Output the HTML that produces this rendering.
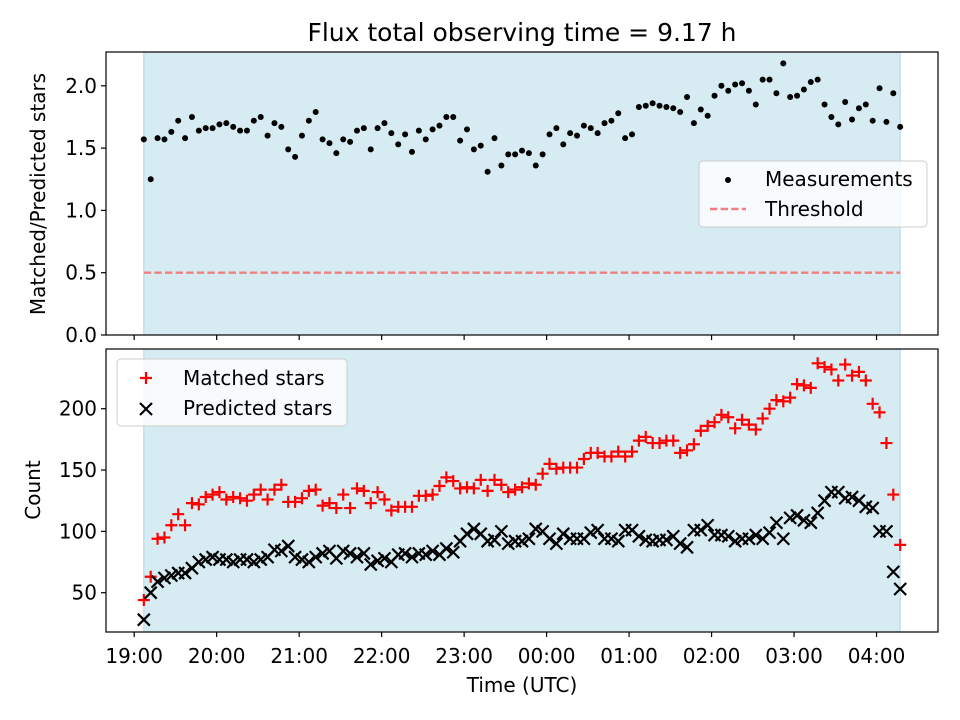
<!DOCTYPE html>
<html><head><meta charset="utf-8"><style>
body{margin:0;background:#fff}
svg{display:block;font-family:"DejaVu Sans","Liberation Sans",sans-serif}
</style></head><body>
<svg id="chart" width="960" height="720" viewBox="0 0 960 720" xmlns="http://www.w3.org/2000/svg">
<text x="522" y="41" font-size="25" text-anchor="middle">Flux total observing time = 9.17 h</text>
<g id="top"></g>
<g id="bot"></g>
<text x="522" y="692" font-size="20" text-anchor="middle">Time (UTC)</text>
<text transform="translate(45,194) rotate(-90)" font-size="20" text-anchor="middle">Matched/Predicted stars</text>
<text transform="translate(40,490) rotate(-90)" font-size="20" text-anchor="middle">Count</text>
</svg>
<script>
const startHour = 19 + 7/60;
const durationHours = 9.17;
const ratio = [1.57,1.25,1.58,1.57,1.63,1.72,1.58,1.75,1.64,1.66,1.66,1.69,1.70,1.67,1.64,1.64,1.72,1.75,1.60,1.70,1.67,1.49,1.43,1.60,1.72,1.79,1.57,1.54,1.46,1.57,1.55,1.64,1.66,1.49,1.66,1.70,1.62,1.53,1.61,1.47,1.64,1.57,1.65,1.68,1.75,1.75,1.56,1.65,1.49,1.52,1.31,1.58,1.36,1.45,1.45,
1.48,1.46,1.36,1.45,1.61,1.66,1.53,1.62,1.60,1.68,1.66,1.62,1.70,1.72,1.78,1.58,1.61,1.83,1.84,1.86,1.84,1.83,1.82,1.79,1.91,1.70,1.81,1.76,1.92,2.00,1.96,2.01,2.02,1.96,1.85,2.05,2.05,1.94,2.18,1.91,1.92,1.97,2.03,2.05,1.85,1.75,1.69,1.87,1.73,1.82,1.85,1.72,1.98,1.71,1.94,1.67];
const matched = [44,63,94,95,105,114,105,123,122,128,130,132,126,128,127,125,130,134,126,134,138,124,124,127,133,134,121,123,119,130,119,135,133,123,132,126,117,120,120,120,129,129,130,137,144,141,135,136,135,142,133,142,
138,132,134,136,139,138,147,155,151,152,152,152,159,164,164,161,161,165,161,165,174,177,172,172,174,174,164,166,171,182,186,189,195,193,184,191,187,183,192,200,207,206,209,220,219,217,237,234,232,223,236,227,230,223,204,197,172,130,89];
const predicted = [28,50,59,62,64,66,66,70,75,77,79,77,77,75,77,77,75,77,79,85,84,88,79,77,75,79,82,84,78,84,82,79,82,73,76,78,75,81,82,79,82,81,84,81,86,83,92,98,102,98,92,93,
100,90,92,92,94,102,100,94,90,98,94,94,94,99,101,94,94,92,101,101,96,93,92,93,93,96,90,87,101,101,105,97,97,96,92,94,94,97,94,99,107,94,111,113,109,107,115,125,132,132,127,128,125,120,119,100,100,67,53];
const xTickLabels = ["19:00","20:00","21:00","22:00","23:00","00:00","01:00","02:00","03:00","04:00"];
const topTicks = [0.0,0.5,1.0,1.5,2.0];
const botTicks = [50,100,150,200];
const threshold = 0.5;

const NS="http://www.w3.org/2000/svg";
function mk(parent,tag,attrs){const e=document.createElementNS(NS,tag);for(const k in attrs)e.setAttribute(k,attrs[k]);parent.appendChild(e);return e;}
const X0=106,X1=938;
const tMin=startHour-0.05*durationHours, tMax=startHour+1.05*durationHours;
const xs=t=>X0+(t-tMin)/(tMax-tMin)*(X1-X0);
const timeAt=i=>startHour+i*durationHours/(ratio.length-1);
const yTop=v=>335-v*124.6;
const yBot=v=>592.7-(v-50)*1.2267;

function frame(g,y0,y1,name){
  const sh=mk(g,'rect',{x:xs(startHour),y:y0,width:xs(startHour+durationHours)-xs(startHour),height:y1-y0,fill:'#add8e6','fill-opacity':0.5,stroke:'#add8e6'});
  
  
  xTickLabels.forEach((l,i)=>{
    const x=xs(19+i);
    const tk=mk(g,'line',{x1:x,x2:x,y1:y1,y2:y1+5,stroke:'#000','stroke-width':1.2});
    
    
  });
}
function border(g,y0,y1,name){
  const b=mk(g,'rect',{x:X0,y:y0,width:X1-X0,height:y1-y0,fill:'none',stroke:'#000','stroke-width':1.2});
  
  
}
// TOP
const gt=document.getElementById('top');
frame(gt,52,335,'top');
topTicks.forEach(v=>{
  const y=yTop(v);
  mk(gt,'line',{x1:X0-5,x2:X0,y1:y,y2:y,stroke:'#000','stroke-width':1.2});
  const t=mk(gt,'text',{x:X0-9,y:y+7,'font-size':20,'text-anchor':'end'});
  t.textContent=v.toFixed(1);
  
  
});
const th=mk(gt,'line',{x1:xs(startHour),x2:xs(startHour+durationHours),y1:yTop(threshold),y2:yTop(threshold),stroke:'#f08080','stroke-width':2.4,'stroke-dasharray':'7.4,3.2'});


ratio.forEach((v,i)=>{
  const c=mk(gt,'circle',{cx:xs(timeAt(i)),cy:yTop(v),r:3,fill:'#000'});
  
  
});
border(gt,52,335,'top');
const lg=mk(gt,'g',{});


mk(lg,'rect',{x:699,y:161,width:228,height:66,rx:4,fill:'#fff','fill-opacity':0.8,stroke:'#ccc'});
mk(lg,'circle',{cx:728,cy:180,r:3,fill:'#000'});
const l1=mk(lg,'text',{x:765,y:186,'font-size':20});l1.textContent='Measurements';


mk(lg,'line',{x1:710,x2:746,y1:209,y2:209,stroke:'#f08080','stroke-width':2.4,'stroke-dasharray':'7.4,3.2'});
const l2=mk(lg,'text',{x:765,y:216,'font-size':20});l2.textContent='Threshold';



// BOTTOM
const gb=document.getElementById('bot');
frame(gb,349,632,'bottom');
botTicks.forEach(v=>{
  const y=yBot(v);
  mk(gb,'line',{x1:X0-5,x2:X0,y1:y,y2:y,stroke:'#000','stroke-width':1.2});
  const t=mk(gb,'text',{x:X0-9,y:y+7,'font-size':20,'text-anchor':'end'});
  t.textContent=v;
  
  
});
xTickLabels.forEach((l,i)=>{
  const t=mk(gb,'text',{x:xs(19+i),y:663,'font-size':20,'text-anchor':'middle'});
  t.textContent=l;
  
  
});
function plus(g,x,y,s){return mk(g,'path',{d:`M${x-s} ${y}H${x+s}M${x} ${y-s}V${y+s}`,stroke:'#f00','stroke-width':2.2,fill:'none'});}
function cross(g,x,y,s){return mk(g,'path',{d:`M${x-s} ${y-s}L${x+s} ${y+s}M${x-s} ${y+s}L${x+s} ${y-s}`,stroke:'#000','stroke-width':2.2,fill:'none'});}
matched.forEach((v,i)=>{
  const p=plus(gb,xs(timeAt(i)),yBot(v),6);
  
  
});
predicted.forEach((v,i)=>{
  const p=cross(gb,xs(timeAt(i)),yBot(v),6);
  
  
});
border(gb,349,632,'bottom');
const lb=mk(gb,'g',{});


mk(lb,'rect',{x:117,y:359,width:230,height:67,rx:4,fill:'#fff','fill-opacity':0.8,stroke:'#ccc'});
plus(lb,146,378,6);
const m1=mk(lb,'text',{x:183,y:385,'font-size':20});m1.textContent='Matched stars';


cross(lb,146,409,6);
const m2=mk(lb,'text',{x:183,y:415,'font-size':20});m2.textContent='Predicted stars';


</script>
</body></html>
